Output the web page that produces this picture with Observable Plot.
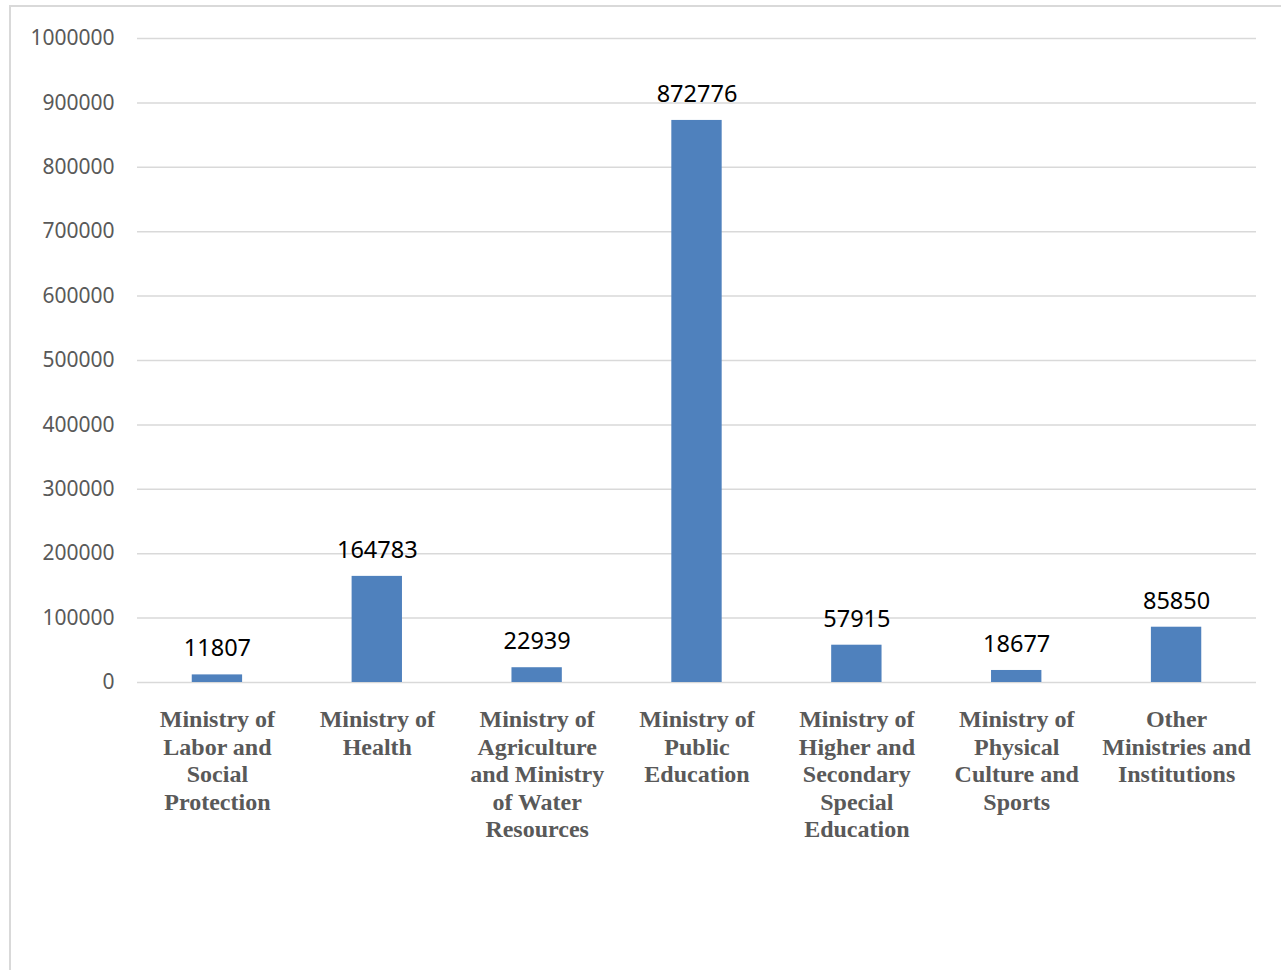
<!DOCTYPE html>
<html>
<head>
<meta charset="utf-8">
<script src="https://cdn.jsdelivr.net/npm/d3@7"></script>
<script src="https://cdn.jsdelivr.net/npm/@observablehq/plot@0.6"></script>
<style>
  html, body { margin: 0; padding: 0; background: #fff; overflow: hidden; }
  #wrap { position: relative; width: 1281px; height: 970px; }
  #frame { position: absolute; left: 9px; top: 5px; width: 1400px; height: 1100px;
           border-left: 2px solid #d9d9d9; border-top: 2px solid #d9d9d9; }
  #chart { position: absolute; left: 0; top: 0; }
</style>
</head>
<body>
<div id="wrap"><div id="frame"></div><div id="chart"></div></div>
<script>
const categories = [
  "Ministry of\nLabor and\nSocial\nProtection",
  "Ministry of\nHealth",
  "Ministry of\nAgriculture\nand Ministry\nof Water\nResources",
  "Ministry of\nPublic\nEducation",
  "Ministry of\nHigher and\nSecondary\nSpecial\nEducation",
  "Ministry of\nPhysical\nCulture and\nSports",
  "Other\nMinistries and\nInstitutions"
];
const values = [11807, 164783, 22939, 872776, 57915, 18677, 85850];
const yTicks = [0, 100000, 200000, 300000, 400000, 500000, 600000, 700000, 800000, 900000, 1000000];

const data = categories.map((c, i) => ({cat: c, value: values[i]}));

const chart = Plot.plot({
  width: 1281,
  height: 970,
  marginLeft: 137,
  marginRight: 25,
  marginTop: 38,
  marginBottom: 288,
  style: {background: "transparent"},
  x: {domain: categories, paddingInner: 0.685, paddingOuter: 0.3425, round: false, axis: null},
  y: {domain: [0, 1000000], axis: null},
  marks: [
    Plot.ruleY(yTicks, {stroke: "#d9d9d9", strokeWidth: 1.5}),
    Plot.text(yTicks, {
      y: d => d, frameAnchor: "left", dx: 114 - 137, textAnchor: "end",
      text: d => String(d), fill: "#595959",
      fontFamily: "Noto Sans", fontSize: 21
    }),
    Plot.barY(data, {x: "cat", y: "value", fill: "#4f81bd"}),
    Plot.text(data, {
      x: "cat", y: "value", text: d => String(d.value), dy: -26,
      fill: "#000", fontFamily: "Noto Sans", fontSize: 23.5
    }),
    Plot.text(data, {
      x: "cat", y: 0, text: "cat", lineAnchor: "top", dy: 25, lineHeight: 1.15,
      fill: "#595959", fontFamily: "'Liberation Serif', 'Times New Roman', serif", fontWeight: "bold", fontSize: 24
    })
  ]
});
document.getElementById("chart").appendChild(chart);
</script>
</body>
</html>
